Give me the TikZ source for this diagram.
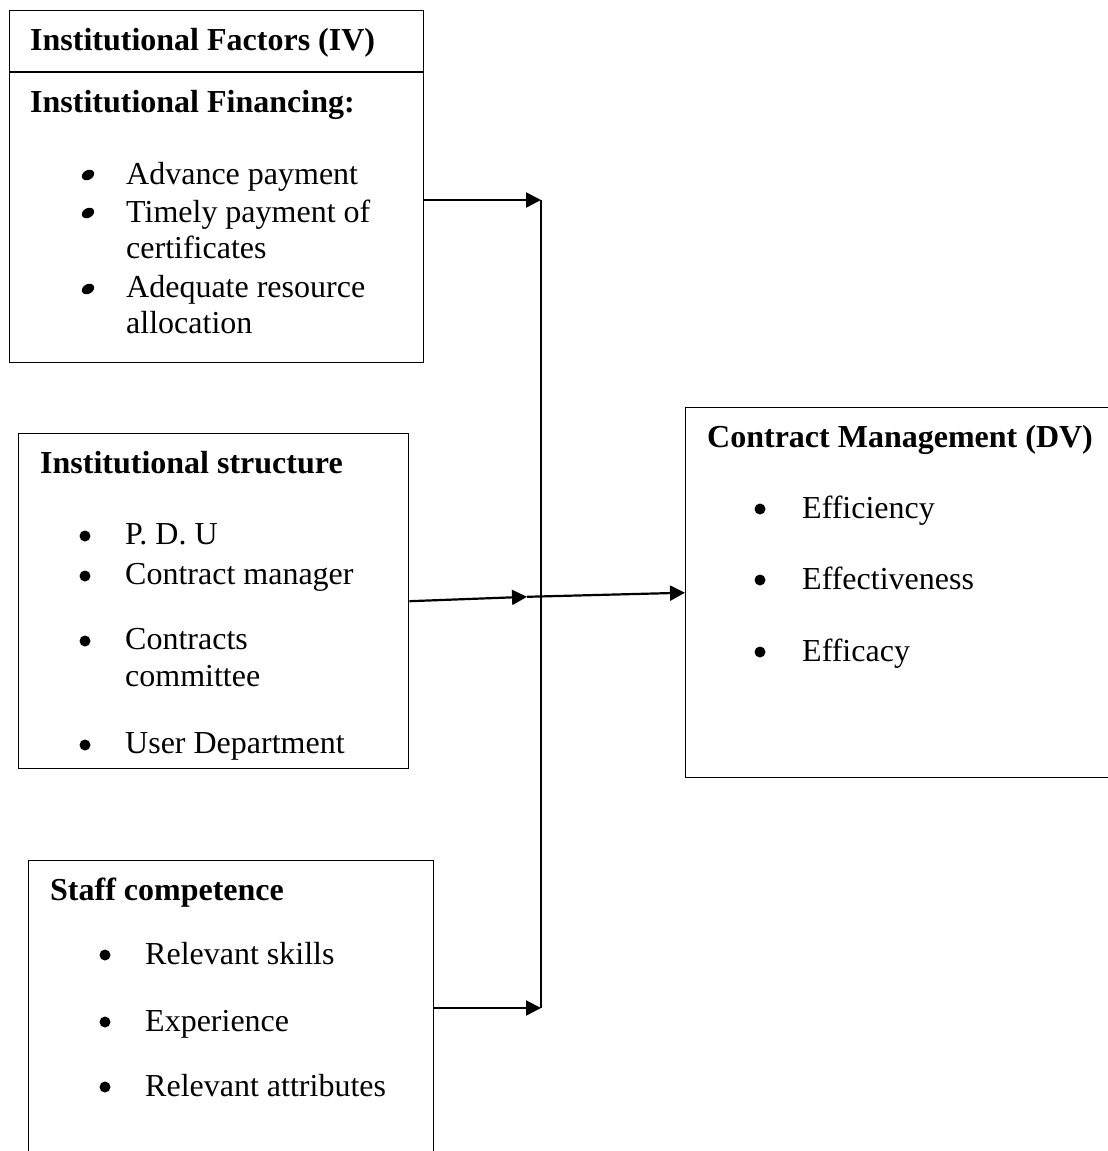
\documentclass[tikz,border=0pt]{standalone}
\usepackage{fontspec}
\setmainfont{Liberation Serif}
\usetikzlibrary{arrows.meta}
\tikzset{
  boxst/.style={draw, line width=1.4pt, inner sep=0pt, anchor=north west},
  txt/.style={inner sep=0pt, anchor=base west, font=\fontsize{32}{38}\selectfont},
  hd/.style={txt, font=\fontsize{32}{38}\selectfont\bfseries},
  bul/.style={circle, fill, inner sep=0pt, minimum size=11pt},
  arr/.style={line width=2.2pt, -{Triangle[length=15pt,width=15pt]}},
  vline/.style={line width=1.4pt},
}
\begin{document}
\begin{tikzpicture}[x=1pt,y=-1pt]
\useasboundingbox (0,0) rectangle (1108,1151);
\clip (0,0) rectangle (1108,1151);
% boxes
\node[boxst, minimum width=414pt, minimum height=352pt] (b1) at (9,10) {};
\node[boxst, minimum width=390pt, minimum height=335pt] (b2) at (18,433) {};
\node[boxst, minimum width=405pt, minimum height=320pt] (b3) at (28,860) {};
\node[boxst, minimum width=440pt, minimum height=370pt] (b4) at (685,407) {};
\draw[line width=1.4pt] ([yshift=-62pt]b1.north west) -- ([yshift=-62pt]b1.north east);
% box 1 texts
\node[hd] (t1) at (30,50) {Institutional Factors (IV)};
\node[hd] (t2) at (30,112) {Institutional Financing:};
\fill[rotate around={30:(88,175)}] (88,175) ellipse (6.5 and 4.8);
\fill[rotate around={30:(88,213)}] (88,213) ellipse (6.5 and 4.8);
\fill[rotate around={30:(88,289)}] (88,289) ellipse (6.5 and 4.8);
\node[txt] (t3) at (126,184) {Advance payment};
\node[txt] (t4) at (126,222) {Timely payment of};
\node[txt] (t5) at (126,258) {certificates};
\node[txt] (t6) at (126,297) {Adequate resource};
\node[txt] (t7) at (126,333) {allocation};
% box 2 texts
\node[hd] (s1) at (40,473) {Institutional structure};
\node[bul] (sb1) at (85,536) {};
\node[bul] (sb2) at (85,576) {};
\node[bul] (sb3) at (85,641) {};
\node[bul] (sb4) at (85,745) {};
\node[txt] (s2) at (125,544) {P. D. U};
\node[txt] (s3) at (125,584) {Contract manager};
\node[txt] (s4) at (125,649) {Contracts};
\node[txt] (s5) at (125,686) {committee};
\node[txt] (s6) at (125,753) {User Department};
% box 3 texts
\node[hd] (c1) at (50,900) {Staff competence};
\node[bul] (cb1) at (105,955) {};
\node[bul] (cb2) at (105,1022) {};
\node[bul] (cb3) at (105,1087) {};
\node[txt] (c2) at (145,964) {Relevant skills};
\node[txt] (c3) at (145,1031) {Experience};
\node[txt] (c4) at (145,1096) {Relevant attributes};
% box 4 texts
\node[hd] (d1) at (707,447) {Contract Management (DV)};
\node[bul] (db1) at (760,509) {};
\node[bul] (db2) at (760,580) {};
\node[bul] (db3) at (760,652) {};
\node[txt] (d2) at (802,518) {Efficiency};
\node[txt] (d3) at (802,589) {Effectiveness};
\node[txt] (d4) at (802,661) {Efficacy};
% connectors
\coordinate (vtop) at (541,200);
\coordinate (vbot) at (541,1008);
\coordinate (mid) at (527,596.8);
\draw[vline] (vtop) -- (vbot);
\draw[arr] (b1.east |- vtop) -- (vtop);
\draw[arr] (b3.east |- vbot) -- (vbot);
\draw[arr] (b2.east) -- (mid);
\draw[arr] (mid) -- (b4.west);
\end{tikzpicture}
\end{document}
